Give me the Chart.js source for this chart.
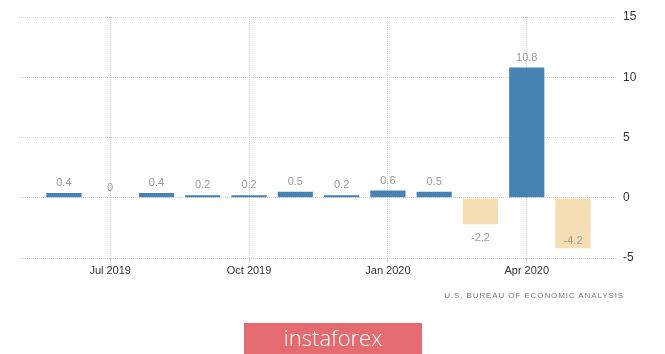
<!DOCTYPE html>
<html>
<head>
<meta charset="utf-8">
<script src="https://cdn.jsdelivr.net/npm/chart.js@4"></script>
<style>
  html, body { margin: 0; padding: 0; background: #fff; }
  #wrap { position: relative; width: 665px; height: 354px; overflow: hidden; }
  #source {
    position: absolute; right: 41px; top: 291px;
    font: 8px "Liberation Sans", sans-serif; letter-spacing: 0.9px; color: #777;
  }
  #logo {
    position: absolute; left: 244px; top: 323px; width: 178px; height: 31px;
    background: #e46b6f; color: #fff; text-align: center;
    font: 300 22px "Open Sans", sans-serif; line-height: 29px;
  }
</style>
</head>
<body>
<div id="wrap">
  <canvas id="myChart" width="665" height="354"></canvas>
  <div id="source">U.S. BUREAU OF ECONOMIC ANALYSIS</div>
  <div id="logo">instaforex</div>
</div>
<script>
// monthly % change, Jun 2019 .. May 2020
const months = ['Jun 2019', 'Jul 2019', 'Aug 2019', 'Sep 2019', 'Oct 2019', 'Nov 2019',
                'Dec 2019', 'Jan 2020', 'Feb 2020', 'Mar 2020', 'Apr 2020', 'May 2020'];
const values = [0.4, 0, 0.4, 0.2, 0.2, 0.5, 0.2, 0.6, 0.5, -2.2, 10.8, -4.2];
const tickMonths = ['Jul 2019', 'Oct 2019', 'Jan 2020', 'Apr 2020'];
const yTicks = [-5, 0, 5, 10, 15];

const points = values.map((v, i) => ({x: i, y: v}));

const valueLabels = {
  id: 'valueLabels',
  afterDatasetsDraw(chart) {
    const ctx = chart.ctx;
    const area = chart.chartArea;
    const meta = chart.getDatasetMeta(0);
    ctx.save();
    ctx.font = '11px "Liberation Sans", sans-serif';
    ctx.fillStyle = '#999';
    ctx.textAlign = 'center';
    ctx.textBaseline = 'middle';
    meta.data.forEach((bar, i) => {
      const v = values[i];
      let ty;
      if (v >= 0) ty = bar.y - 10;
      else ty = Math.min(bar.y + 14, area.bottom - 17);
      ctx.fillText(String(v), bar.x, ty);
    });
    ctx.restore();
  }
};

const config = {
  type: 'bar',
  data: {
    datasets: [{
      data: points,
      backgroundColor: values.map(v => v < 0 ? '#f5deb3' : '#4682b4'),
      categoryPercentage: 1,
      barPercentage: 0.76
    }]
  },
  options: {
    responsive: false,
    animation: false,
    layout: { padding: { left: 19, top: 17, right: 0, bottom: 0 } },
    plugins: { legend: { display: false }, tooltip: { enabled: false } },
    scales: {
      x: {
        type: 'linear',
        offset: false,
        min: -0.97,
        max: 11.95,
        afterBuildTicks(scale) {
          scale.ticks = tickMonths.map(m => ({value: months.indexOf(m)}));
        },
        afterFit(scale) { scale.height = 96; },
        ticks: {
          callback: v => months[v],
          color: '#333',
          font: { family: 'Liberation Sans', size: 11 },
          padding: 1,
          maxRotation: 0
        },
        grid: { offset: false, color: '#d0d0d0', tickLength: 5, tickColor: '#d0d0d0' },
        border: { display: false, dash: [1, 1] }
      },
      y: {
        position: 'right',
        min: -5,
        max: 15,
        afterBuildTicks(scale) {
          scale.ticks = yTicks.map(v => ({value: v}));
        },
        afterFit(scale) { scale.width = 48; },
        ticks: {
          color: '#333',
          font: { family: 'Liberation Sans', size: 12 },
          padding: 6
        },
        grid: { color: '#d0d0d0', drawTicks: false },
        border: { display: false, dash: [1, 1] }
      }
    }
  },
  plugins: [valueLabels]
};

const myChart = new Chart(document.getElementById('myChart'), config);
</script>
</body>
</html>
